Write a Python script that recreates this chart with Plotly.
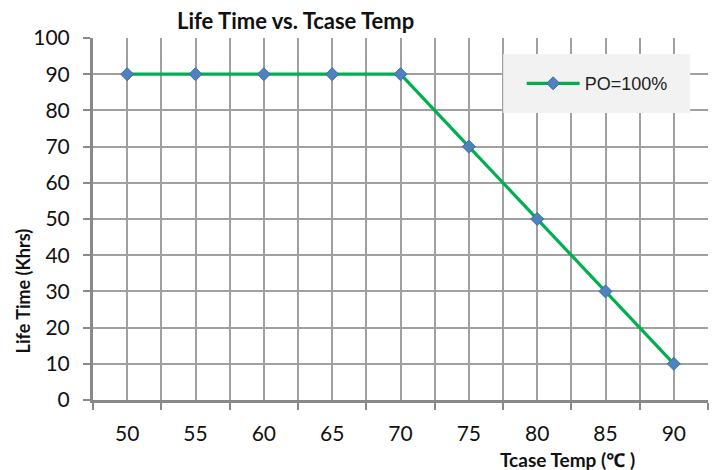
import plotly.graph_objects as go

temps = [50, 55, 60, 65, 70, 75, 80, 85, 90]
life_khrs = [90, 90, 90, 90, 90, 70, 50, 30, 10]
series_name = "PO=100%"
title_text = "Life Time vs. Tcase Temp"
x_title = "Tcase Temp (℃ )"
y_title = "Life Time (Khrs)"

grid_c = "#a0a0a0"
axis_c = "#898989"
font_f = "Lato, Noto Sans, sans-serif"

fig = go.Figure()
fig.add_trace(go.Scatter(
    x=temps, y=life_khrs, mode="lines+markers", name=series_name,
    line=dict(color="#00b050", width=3.2),
    marker=dict(symbol="diamond", size=10, color="#4f81bd",
                line=dict(color="#3a6ea5", width=1)),
))

fig.update_layout(
    width=712, height=462,
    margin=dict(l=85, r=12, t=30, b=70),
    paper_bgcolor="white", plot_bgcolor="white",
    showlegend=True,
    legend=dict(x=0.697, y=0.874, xanchor="left", yanchor="middle",
                itemwidth=53,
                bgcolor="rgba(0,0,0,0)", borderwidth=0,
                font=dict(family="Liberation Sans, Arial, sans-serif", size=18, color="#222")),
    xaxis=dict(
        range=[47.5, 92.5], tickvals=temps, ticks="", showgrid=True,
        gridcolor=grid_c, gridwidth=1.5, zeroline=False,
        showline=True, linecolor=axis_c, linewidth=3,
        tickfont=dict(family=font_f, size=21, color="#111"),
        minor=dict(tickmode="linear", tick0=47.5, dtick=5, showgrid=True,
                   gridcolor=grid_c, gridwidth=1.5, ticks="outside",
                   ticklen=7, tickcolor=axis_c, tickwidth=2),
        ticklabelstandoff=13,
        fixedrange=True,
    ),
    yaxis=dict(
        range=[0, 100], dtick=10, ticks="outside", ticklen=7, tickcolor=axis_c,
        tickwidth=2, showgrid=True, gridcolor=grid_c, gridwidth=1.5,
        zeroline=False, showline=True, linecolor=axis_c, linewidth=3,
        tickfont=dict(family=font_f, size=21, color="#111"),
        ticklabelstandoff=9,
    ),
    shapes=[dict(type="rect", xref="paper", yref="paper",
                 x0=0.667, x1=0.971, y0=0.793, y1=0.956,
                 fillcolor="#f2f2f2", line=dict(width=0), layer="above")],
    annotations=[
        dict(text="<b>" + title_text + "</b>", xref="paper", yref="paper",
             x=0.33, y=1.0, yshift=18, xanchor="center", yanchor="middle", showarrow=False,
             font=dict(family=font_f, size=22, color="#111")),
        dict(text="<b>" + x_title + "</b>", xref="paper", yref="paper",
             x=0.771, y=0, yshift=-59, xanchor="center", yanchor="middle", showarrow=False,
             font=dict(family=font_f, size=19, color="#111")),
        dict(text="<b>" + y_title + "</b>", xref="paper", yref="paper",
             x=0, xshift=-70, y=0.30, xanchor="center", yanchor="middle", textangle=-90,
             showarrow=False, font=dict(family=font_f, size=18, color="#111")),
    ],
)

fig.write_html("out.html")
